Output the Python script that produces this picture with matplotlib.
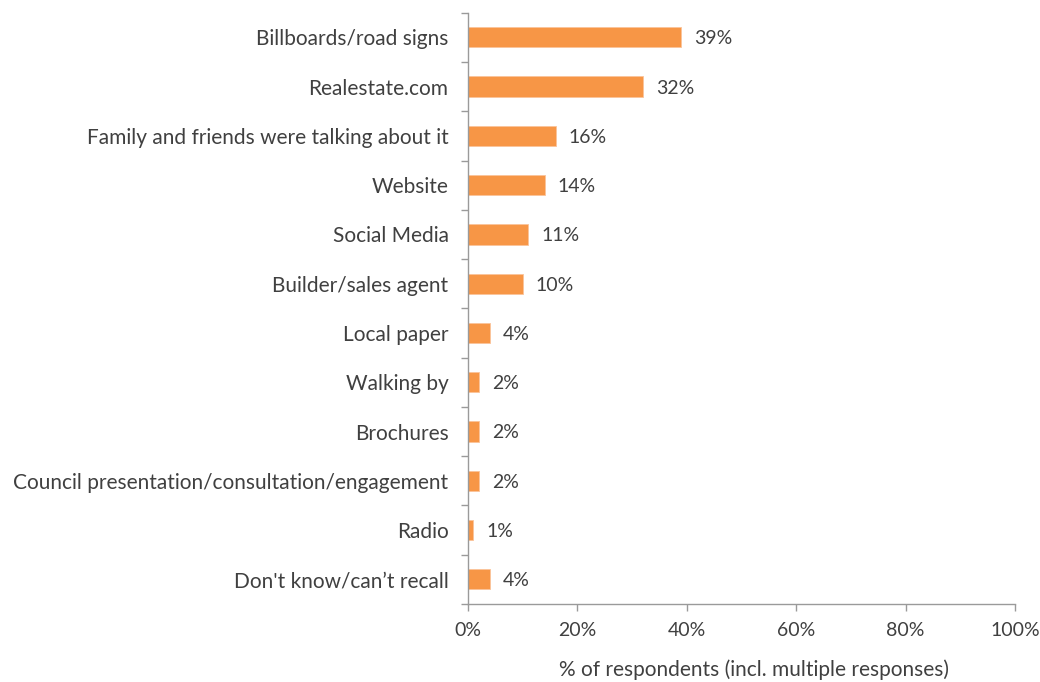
import matplotlib
matplotlib.use("Agg")
import matplotlib.pyplot as plt
from matplotlib.ticker import FixedLocator, PercentFormatter

categories = [
    "Billboards/road signs",
    "Realestate.com",
    "Family and friends were talking about it",
    "Website",
    "Social Media",
    "Builder/sales agent",
    "Local paper",
    "Walking by",
    "Brochures",
    "Council presentation/consultation/engagement",
    "Radio",
    "Don't know/can\u2019t recall",
]
values = [39, 32, 16, 14, 11, 10, 4, 2, 2, 2, 1, 4]
x_ticks = [0, 20, 40, 60, 80, 100]

plt.rcParams["font.family"] = ["Lato", "DejaVu Sans"]
text_color = "#404040"
axis_color = "#9a9a9a"
bar_color = "#F79646"
fs_text = 15
fs_num = 14

fig = plt.figure(figsize=(10.4, 6.82), dpi=100)
ax = fig.add_axes([0.45, 0.1144, 0.526, 0.867])

n = len(categories)
ypos = list(range(n))
ax.barh(ypos, values, height=0.41, color=bar_color, edgecolor="#fbc49a", linewidth=0.6)

for y, v in zip(ypos, values):
    ax.text(v + 2.4, y + 0.03, f"{v}%", va="center", ha="left", fontsize=fs_num,
            color=text_color)

ax.set_ylim(n - 0.5, -0.5)
ax.set_xlim(0, 100)
ax.set_yticks(ypos)
ax.set_yticklabels(categories, fontsize=fs_text, color=text_color)
ax.yaxis.set_minor_locator(FixedLocator([i - 0.5 for i in range(n + 1)]))
ax.tick_params(axis="y", which="major", length=0, pad=14)
ax.tick_params(axis="y", which="minor", length=5, color=axis_color, width=1)

ax.set_xticks(x_ticks)
ax.xaxis.set_major_formatter(PercentFormatter(decimals=0))
ax.tick_params(axis="x", which="major", length=5, color=axis_color, width=1,
               labelsize=fs_num, labelcolor=text_color, pad=8)
ax.set_xlabel("% of respondents (incl. multiple responses)", fontsize=fs_text,
              color=text_color)
ax.xaxis.set_label_coords(0.522, -0.094)

for side in ("top", "right"):
    ax.spines[side].set_visible(False)
for side in ("left", "bottom"):
    ax.spines[side].set_color(axis_color)
    ax.spines[side].set_linewidth(1)

fig.savefig("out.png", dpi=100, facecolor="white")
